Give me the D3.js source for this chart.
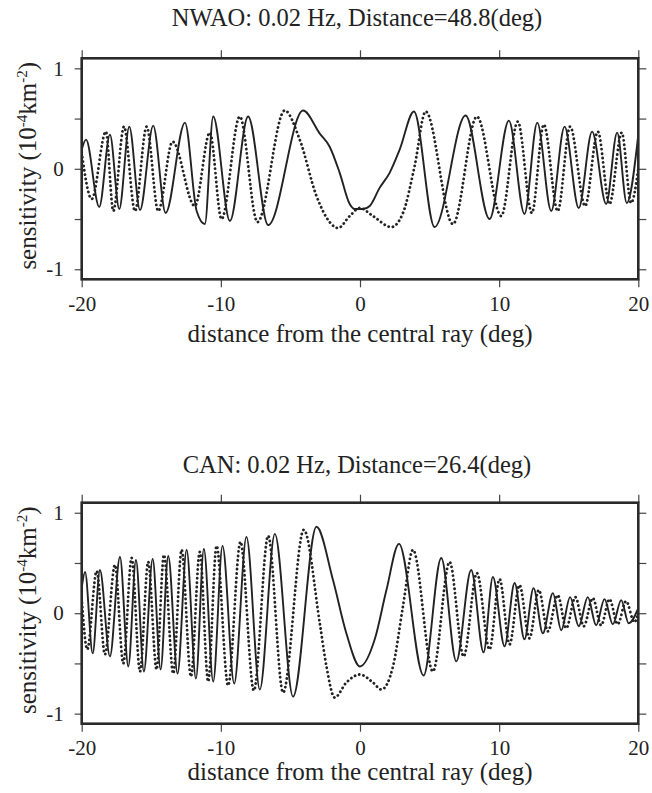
<!DOCTYPE html>
<html>
<head>
<meta charset="utf-8">
<script src="https://cdn.jsdelivr.net/npm/d3@7"></script>
<style>
  body { margin: 0; background: #fff; }
  svg { display: block; font-family: "Liberation Serif", "Times New Roman", serif; }
</style>
</head>
<body>
<svg width="652" height="793"></svg>
<script>
document.addEventListener('DOMContentLoaded', function() {

// tick values
const xTicks = [-20, -10, 0, 10, 20];
const yTicks = [-1, 0, 1];
const yMinor = [-1, -0.5, 0, 0.5, 1];

// NWAO, 0.02 Hz, distance 48.8 deg  ([distance from ray, sensitivity])
const nwaoSolid = [
    [-20, 0.19], [-19.69, 0.29], [-18.74, -0.38], [-17.97, 0.34], [-17.30, -0.40],
    [-16.58, 0.42], [-15.81, -0.41], [-14.86, 0.43], [-13.97, -0.44], [-12.58, 0.46],
    [-11.74, -0.42], [-11.15, -0.55], [-10.55, 0.52], [-9.35, -0.52], [-8.04, 0.52],
    [-6.60, -0.56], [-4.09, 0.58], [-2.89, 0.35], [-2.18, 0.22], [-1.46, -0.04],
    [-0.74, -0.35], [-0.38, -0.40], [0.22, -0.40], [0.70, -0.37], [1.41, -0.19],
    [2.13, -0.04], [2.85, 0.19], [3.88, 0.57], [5.36, -0.58], [7.59, 0.53],
    [9.31, -0.50], [10.70, 0.48], [11.82, -0.45], [12.74, 0.46], [13.74, -0.42],
    [14.70, 0.42], [15.72, -0.39], [16.68, 0.37], [17.69, -0.35], [18.48, 0.36],
    [19.17, -0.34], [20, 0.34]
];
const nwaoDotted = [
    [-20, 0.16], [-19.28, -0.30], [-18.26, 0.37], [-17.73, -0.42], [-16.96, 0.42],
    [-16.17, -0.42], [-15.33, 0.42], [-14.50, -0.42], [-13.47, 0.27], [-11.87, -0.37],
    [-10.79, 0.36], [-9.95, -0.50], [-8.64, 0.52], [-7.37, -0.53], [-5.41, 0.58],
    [-4.33, 0.29], [-3.13, -0.27], [-2.18, -0.53], [-1.58, -0.59], [-0.74, -0.47],
    [-0.02, -0.39], [0.93, -0.47], [2.25, -0.58], [3.09, -0.44], [3.93, 0.03],
    [4.72, 0.57], [6.68, -0.55], [8.40, 0.52], [10.15, -0.47], [11.34, 0.47],
    [12.35, -0.44], [13.21, 0.44], [14.21, -0.42], [15.10, 0.42], [16.18, -0.37],
    [17.09, 0.37], [17.93, -0.35], [18.81, 0.36], [19.48, -0.34], [20, 0.0]
];

// CAN, 0.02 Hz, distance 26.4 deg
const canSolid = [
    [-20, 0.25], [-19.76, 0.41], [-19.21, -0.40], [-18.69, 0.43], [-17.97, -0.43],
    [-17.25, 0.56], [-16.65, -0.53], [-16.10, 0.53], [-15.53, -0.58], [-14.90, 0.54],
    [-14.33, -0.56], [-13.78, 0.57], [-13.11, -0.60], [-12.46, 0.63], [-11.79, -0.65],
    [-11.22, 0.64], [-10.55, -0.68], [-9.88, 0.67], [-9.04, -0.70], [-8.16, 0.76],
    [-7.20, -0.76], [-6.12, 0.79], [-4.81, -0.83], [-3.13, 0.86], [-1.94, 0.33],
    [-0.98, -0.20], [0.0, -0.53], [1.06, -0.26], [1.90, 0.23], [2.80, 0.69],
    [4.57, -0.62], [5.84, 0.55], [6.92, -0.48], [7.99, 0.43], [8.88, -0.39],
    [9.55, 0.36], [10.39, -0.33], [11.11, 0.30], [11.82, -0.26], [12.47, 0.25],
    [13.14, -0.20], [13.86, 0.20], [14.46, -0.17], [15.10, 0.16], [15.72, -0.13],
    [16.37, 0.16], [16.97, -0.12], [17.57, 0.14], [18.17, -0.11], [18.77, 0.13],
    [19.31, -0.10], [20, 0.05]
];
const canDotted = [
    [-20, 0.15], [-19.60, -0.36], [-18.92, 0.42], [-18.33, -0.41], [-17.61, 0.48],
    [-17.01, -0.50], [-16.41, 0.55], [-15.81, -0.58], [-15.22, 0.51], [-14.62, -0.56],
    [-14.09, 0.58], [-13.42, -0.60], [-12.82, 0.63], [-12.15, -0.63], [-11.51, 0.61],
    [-10.91, -0.68], [-10.31, 0.67], [-9.48, -0.72], [-8.59, 0.71], [-7.63, -0.77],
    [-6.60, 0.77], [-5.53, -0.79], [-4.04, 0.83], [-2.89, -0.10], [-2.41, -0.53],
    [-1.82, -0.84], [-0.98, -0.69], [0.0, -0.61], [0.93, -0.69], [1.54, -0.76],
    [2.37, -0.53], [3.09, 0.07], [3.81, 0.63], [5.24, -0.58], [6.44, 0.51],
    [7.45, -0.43], [8.40, 0.40], [9.31, -0.36], [10.03, 0.34], [10.75, -0.31],
    [11.46, 0.28], [12.18, -0.25], [12.85, 0.23], [13.50, -0.18], [14.21, 0.18],
    [14.82, -0.15], [15.48, 0.16], [16.08, -0.13], [16.73, 0.15], [17.33, -0.12],
    [17.93, 0.14], [18.52, -0.11], [19.12, 0.12], [19.72, -0.09], [20, 0.0]
];

const panels = [
    { id: "nwao", title: "NWAO: 0.02 Hz, Distance=48.8(deg)", solid: nwaoSolid, dotted: nwaoDotted,
      top: 58.3, titleY: 26, labelY: 342 },
    { id: "can", title: "CAN: 0.02 Hz, Distance=26.4(deg)", solid: canSolid, dotted: canDotted,
      top: 502.7, titleY: 473.3, labelY: 780 }
];

const svg = d3.select("svg");
const left = 81.7, right = 638.3, plotH = 221;
const ink = "#222";

const x = d3.scaleLinear().domain([-20, 20]).range([left, right]);

panels.forEach(p => {
    const y = d3.scaleLinear().domain([-1.1, 1.1]).range([p.top + plotH, p.top]);
    const g = svg.append("g").attr("class", "panel " + p.id);

    g.append("clipPath").attr("id", "clip-" + p.id)
        .append("rect")
        .attr("x", left).attr("y", p.top)
        .attr("width", right - left).attr("height", plotH);

    const line = d3.line()
        .x(d => x(d[0]))
        .y(d => y(d[1]))
        .curve(d3.curveMonotoneX);

    const curves = g.append("g").attr("clip-path", `url(#clip-${p.id})`);
    curves.append("path")
        .datum(p.dotted)
        .attr("d", line)
        .attr("fill", "none")
        .attr("stroke", ink)
        .attr("stroke-width", 2.8)
        .attr("stroke-linecap", "round")
        .attr("stroke-dasharray", "0.1,4.3");
    curves.append("path")
        .datum(p.solid)
        .attr("d", line)
        .attr("fill", "none")
        .attr("stroke", ink)
        .attr("stroke-width", 1.9);

    // axes, ticks pointing out on all four sides; plain hyphen for negatives
    const fmt = d => String(d);
    g.append("g")
        .attr("transform", `translate(0,${p.top + plotH})`)
        .call(d3.axisBottom(x).tickValues(xTicks).tickSize(8).tickPadding(8.5).tickFormat(fmt));
    g.append("g")
        .attr("transform", `translate(0,${p.top})`)
        .call(d3.axisTop(x).tickValues(xTicks).tickSize(8).tickFormat(""));
    g.append("g")
        .attr("transform", `translate(${left},0)`)
        .call(d3.axisLeft(y).tickValues(yMinor).tickSize(7).tickPadding(11)
            .tickFormat(d => yTicks.includes(d) ? fmt(d) : ""));
    g.append("g")
        .attr("transform", `translate(${right},0)`)
        .call(d3.axisRight(y).tickValues(yMinor).tickSize(8).tickFormat(""));

    g.selectAll(".domain").remove();
    g.selectAll(".tick line").attr("stroke", "#444").attr("stroke-width", 1.2);
    g.selectAll(".tick text")
        .attr("fill", ink)
        .attr("font-family", "Liberation Serif, Times New Roman, serif")
        .attr("font-size", 21);

    // frame
    g.append("rect")
        .attr("x", left).attr("y", p.top)
        .attr("width", right - left).attr("height", plotH)
        .attr("fill", "none")
        .attr("stroke", "#2a2a2a")
        .attr("stroke-width", 2.6);

    g.append("text")
        .attr("x", (left + right) / 2 - 3)
        .attr("y", p.titleY)
        .attr("text-anchor", "middle")
        .attr("font-size", 24.5)
        .attr("fill", ink)
        .text(p.title);

    g.append("text")
        .attr("x", (left + right) / 2)
        .attr("y", p.labelY)
        .attr("text-anchor", "middle")
        .attr("font-size", 25)
        .attr("fill", ink)
        .text("distance from the central ray (deg)");

    const yl = g.append("text")
        .attr("transform", `translate(36,${p.top + plotH / 2 - 3}) rotate(-90)`)
        .attr("text-anchor", "middle")
        .attr("font-size", 25)
        .attr("fill", ink);
    yl.append("tspan").text("sensitivity (10");
    yl.append("tspan").attr("dy", -9).attr("font-size", 15).text("-4");
    yl.append("tspan").attr("dy", 9).text("km");
    yl.append("tspan").attr("dy", -9).attr("font-size", 15).text("-2");
    yl.append("tspan").attr("dy", 9).text(")");
});

});
</script>
</body>
</html>
